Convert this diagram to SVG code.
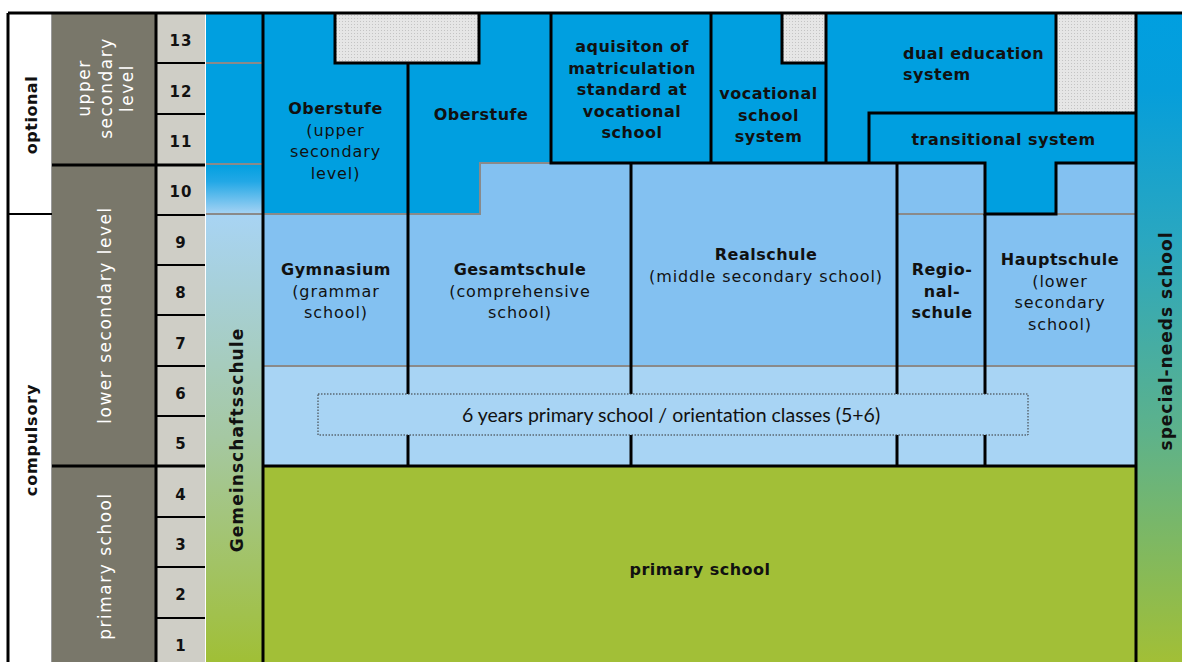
<svg xmlns="http://www.w3.org/2000/svg" width="1182" height="662" viewBox="0 0 1182 662">
<defs>
<linearGradient id="gGem" x1="0" y1="0" x2="0" y2="1">
<stop offset="0" stop-color="#A8D4F4"/>
<stop offset="0.5" stop-color="#A5C8A2"/>
<stop offset="1" stop-color="#A0BF36"/>
</linearGradient>
<linearGradient id="g10" x1="0" y1="0" x2="0" y2="1">
<stop offset="0" stop-color="#009FE0"/>
<stop offset="0.35" stop-color="#22A8E6"/>
<stop offset="1" stop-color="#A6D3F4"/>
</linearGradient>
<linearGradient id="gSpec" x1="0" y1="0" x2="0" y2="1">
<stop offset="0" stop-color="#009FE0"/>
<stop offset="0.12" stop-color="#069EDA"/>
<stop offset="0.35" stop-color="#2AA7C0"/>
<stop offset="0.65" stop-color="#5EB28A"/>
<stop offset="1" stop-color="#A2BF36"/>
</linearGradient>
<pattern id="hatch" width="3" height="3" patternUnits="userSpaceOnUse">
<rect width="3" height="3" fill="#E6E6E6"/>
<rect width="1" height="1" fill="#C4C4C4"/>
</pattern>
<style>
.bl{stroke:#000;stroke-width:3;fill:none}
.bt{stroke:#000;stroke-width:2;fill:none}
.gl{stroke:#8A8A8A;stroke-width:2;fill:none}
.t{font-family:"DejaVu Sans",Verdana,sans-serif;font-size:16px;fill:#111;text-anchor:middle;letter-spacing:0.9px}
.b{font-weight:bold;letter-spacing:0.5px}
.w{fill:#FFFFFF;font-size:17px;letter-spacing:1.5px}
.num{font-family:"DejaVu Sans",Verdana,sans-serif;font-size:15px;font-weight:bold;fill:#111;text-anchor:middle;letter-spacing:1px}
.rot{font-size:17px;letter-spacing:1.1px}
.lato{font-family:Lato,"Open Sans",sans-serif;font-size:19.5px;fill:#111;text-anchor:middle}
</style>
</defs>

<rect width="1182" height="662" fill="#FFFFFF"/>

<g id="side-columns">
<rect x="52" y="13" width="104" height="649" fill="#79776A"/>
<rect x="156" y="13" width="49" height="649" fill="#CFCEC6"/>
<rect x="206" y="13" width="57" height="152" fill="#009FE0"/>
<rect x="206" y="164" width="57" height="50" fill="url(#g10)"/>
<rect x="206" y="214" width="57" height="448" fill="url(#gGem)"/>
<rect x="1136" y="13" width="46" height="649" fill="url(#gSpec)"/>
<line x1="51.5" y1="13" x2="51.5" y2="662" stroke="#9A9A9A" stroke-width="1"/>
</g>

<g id="main-fills">
<rect x="263" y="466" width="873" height="196" fill="#A2BF37"/>
<rect x="263" y="366" width="873" height="100" fill="#A8D4F4"/>
<rect x="263" y="163" width="873" height="203" fill="#83C1F1"/>
<path d="M263,13 H1136 V163 H1056 V214 H985 V163 H480 V214 H263 Z" fill="#009FE0"/>
<rect x="335" y="13" width="144" height="50" fill="url(#hatch)"/>
<rect x="782" y="13" width="44" height="50" fill="url(#hatch)"/>
<rect x="1056" y="13" width="80" height="100" fill="url(#hatch)"/>
</g>

<g id="connectors">
<path class="gl" d="M206,63 H263 M206,164 H263 M206,214 H263"/>
<path class="gl" d="M263,214 H480 V163 H551"/>
<path class="gl" d="M897,214 H985 M1056,214 H1136"/>
<path class="gl" d="M263,366 H1136"/>
<path class="bl" d="M8,13 H1182 M8,13 V662 M156,13 V662 M52,165 H205 M52,466 H205"/>
<path class="bt" d="M8,214 H52"/>
<path class="bt" d="M156,63 H205 M156,114 H205 M156,215 H205 M156,265 H205 M156,315 H205 M156,366 H205 M156,416 H205 M156,517 H205 M156,567 H205 M156,618 H205"/>
<path class="bl" d="M263,13 V662 M1136,13 V662 M263,466 H1136"/>
<path class="bl" d="M335,13 V63 H479 V13"/>
<path class="bl" d="M408,63 V466"/>
<path class="bl" d="M551,13 V163 H985 V214 H1056 V163 H1136"/>
<path class="bl" d="M711,13 V163"/>
<path class="bl" d="M782,13 V63 H826 M826,13 V163"/>
<path class="bl" d="M1056,13 V113 M869,163 V113 H1136"/>
<path class="bl" d="M985,214 V466 M631,163 V466 M897,163 V466"/>
</g>

<g id="left-labels">
<text class="t b" transform="translate(37,115) rotate(-90)">optional</text>
<text class="t b" transform="translate(37,440) rotate(-90)" style="letter-spacing:0.8px">compulsory</text>
<text class="t w" transform="translate(90,88) rotate(-90)">upper</text>
<text class="t w" transform="translate(111.5,88) rotate(-90)">secondary</text>
<text class="t w" transform="translate(133,88) rotate(-90)">level</text>
<text class="t w" transform="translate(111,315) rotate(-90)">lower secondary level</text>
<text class="t w" transform="translate(111,566) rotate(-90)">primary school</text>
</g>

<g id="grades">
<text class="num" x="181" y="46">13</text>
<text class="num" x="181" y="97">12</text>
<text class="num" x="181" y="147">11</text>
<text class="num" x="181" y="197">10</text>
<text class="num" x="181" y="248">9</text>
<text class="num" x="181" y="298">8</text>
<text class="num" x="181" y="349">7</text>
<text class="num" x="181" y="399">6</text>
<text class="num" x="181" y="449">5</text>
<text class="num" x="181" y="500">4</text>
<text class="num" x="181" y="550">3</text>
<text class="num" x="181" y="600">2</text>
<text class="num" x="181" y="651">1</text>
</g>

<g id="gemeinschaftsschule">
<text class="t b rot" transform="translate(243,440) rotate(-90)">Gemeinschaftsschule</text>
</g>

<g id="special-needs-school">
<text class="t b rot" transform="translate(1172,341) rotate(-90)" style="letter-spacing:1px">special-needs school</text>
</g>

<g id="oberstufe-gymnasium">
<text class="t b" x="335.5" y="114">Oberstufe</text>
<text class="t" x="335.5" y="135.5">(upper</text>
<text class="t" x="335.5" y="157">secondary</text>
<text class="t" x="335.5" y="178.5">level)</text>
</g>

<g id="oberstufe-gesamtschule">
<text class="t b" x="481" y="120">Oberstufe</text>
</g>

<g id="matriculation-vocational">
<text class="t b" x="632" y="52">aquisiton of</text>
<text class="t b" x="632" y="73.5">matriculation</text>
<text class="t b" x="632" y="95">standard at</text>
<text class="t b" x="632" y="116.5">vocational</text>
<text class="t b" x="632" y="138">school</text>
</g>

<g id="vocational-school-system">
<text class="t b" x="768.5" y="99">vocational</text>
<text class="t b" x="768.5" y="120.5">school</text>
<text class="t b" x="768.5" y="142">system</text>
</g>

<g id="dual-education-system">
<text class="t b" x="903" y="59" style="text-anchor:start">dual education</text>
<text class="t b" x="903" y="80" style="text-anchor:start">system</text>
</g>

<g id="transitional-system">
<text class="t b" x="1003.5" y="145">transitional system</text>
</g>

<g id="gymnasium">
<text class="t b" x="336" y="275">Gymnasium</text>
<text class="t" x="336" y="297">(grammar</text>
<text class="t" x="336" y="318">school)</text>
</g>

<g id="gesamtschule">
<text class="t b" x="520" y="275">Gesamtschule</text>
<text class="t" x="520" y="297">(comprehensive</text>
<text class="t" x="520" y="318">school)</text>
</g>

<g id="realschule">
<text class="t b" x="766" y="260">Realschule</text>
<text class="t" x="766" y="282">(middle secondary school)</text>
</g>

<g id="regionalschule">
<text class="t b" x="942" y="275">Regio-</text>
<text class="t b" x="942" y="297">nal-</text>
<text class="t b" x="942" y="318">schule</text>
</g>

<g id="hauptschule">
<text class="t b" x="1060" y="265">Hauptschule</text>
<text class="t" x="1060" y="287">(lower</text>
<text class="t" x="1060" y="308">secondary</text>
<text class="t" x="1060" y="330">school)</text>
</g>

<g id="orientation-classes">
<rect x="318" y="394" width="710" height="41" fill="#A8D4F4" stroke="#333333" stroke-width="1" stroke-dasharray="1.5,1.5"/>
<text class="lato" x="671" y="422">6 years primary school / orientation classes (5+6)</text>
</g>

<g id="primary-school">
<text class="t b" x="700" y="575">primary school</text>
</g>
</svg>
